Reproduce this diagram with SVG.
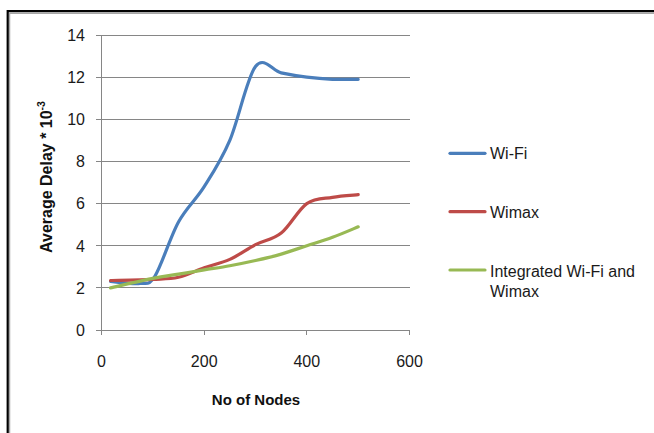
<svg xmlns="http://www.w3.org/2000/svg" width="654" height="433" viewBox="0 0 654 433">
  <style>
    .frame { fill: none; stroke: #000; stroke-width: 2.2; }
    .frame2 { fill: none; stroke: #a6a6a6; stroke-width: 1.3; }
    .grid { stroke: #868686; stroke-width: 1; fill: none; }
    .tick { font-family: "Liberation Sans", Arial, sans-serif; font-size: 16px; fill: #1a1a1a; }
    .title { font-family: "Liberation Sans", Arial, sans-serif; font-size: 15px; font-weight: bold; fill: #111; }
    .series { fill: none; stroke-width: 3.2; stroke-linecap: round; stroke-linejoin: round; }
    .wifi { stroke: #4a7ebb; }
    .wimax { stroke: #be4b48; }
    .integ { stroke: #98b954; }
    .legend-text { font-family: "Liberation Sans", Arial, sans-serif; font-size: 16px; fill: #1a1a1a; }
  </style>

  <rect width="654" height="433" fill="#fff"/>

  <!-- outer frame (top and left edges) -->
  <g id="frame">
    <path class="frame2" d="M9.6 433 V13.4 H654"/>
    <path class="frame" d="M7.7 433 V11.2 H654"/>
  </g>

  <!-- gridlines, axes and ticks -->
  <g id="axes" shape-rendering="crispEdges">
    <path class="grid" d="M96 35 H410 M96 77.1 H410 M96 119.3 H410 M96 161.4 H410 M96 203.6 H410 M96 245.7 H410 M96 287.9 H410 M96 330 H410"/>
    <path class="grid" d="M101.5 35 V335 M204.2 330 V335 M306.8 330 V335 M409.5 330 V335"/>
  </g>

  <g id="y-labels" class="tick" text-anchor="end">
    <text x="85" y="40.8">14</text>
    <text x="85" y="82.9">12</text>
    <text x="85" y="125.1">10</text>
    <text x="85" y="167.2">8</text>
    <text x="85" y="209.4">6</text>
    <text x="85" y="251.5">4</text>
    <text x="85" y="293.7">2</text>
    <text x="85" y="335.8">0</text>
  </g>

  <g id="x-labels" class="tick" text-anchor="middle">
    <text x="101.5" y="366.5">0</text>
    <text x="204.2" y="366.5">200</text>
    <text x="306.8" y="366.5">400</text>
    <text x="409.5" y="366.5">600</text>
  </g>

  <g id="axis-titles" class="title">
    <text x="256" y="405" text-anchor="middle">No of Nodes</text>
    <text transform="translate(51.5,177) rotate(-90)" text-anchor="middle" font-size="16">Average Delay * 10<tspan font-size="10.5" dy="-6.5">-3</tspan></text>
  </g>

  <!-- data series -->
  <g id="series">
    <path id="wifi" class="series wifi" d="M110.5 281.5 C115.42 281.83 132.58 284.42 140 283.5 C147.42 282.58 148.58 286.25 155 276 C161.42 265.75 170.3 236.88 178.5 222 C186.7 207.12 195.65 200.3 204.2 186.7 C212.75 173.1 221.25 160.43 229.8 140.4 C238.35 120.37 246.93 77.75 255.5 66.5 C264.07 55.25 272.65 71.12 281.2 72.9 C289.75 74.68 298.25 76.13 306.8 77.2 C315.35 78.27 323.930 78.95 332.5 79.3 C341.07 79.65 353.92 79.3 358.2 79.3"/>
    <path id="wimax" class="series wimax" d="M110.5 280.5 C117.55 280.32 141.47 279.93 152.8 279.4 C164.13 278.87 169.93 279.23 178.5 277.3 C187.07 275.37 195.65 270.78 204.2 267.8 C212.75 264.82 221.25 263.25 229.8 259.4 C238.35 255.55 246.93 249.08 255.5 244.7 C264.07 240.32 272.65 239.95 281.2 233.1 C289.75 226.25 298.25 209.57 306.8 203.6 C315.35 197.63 323.93 198.78 332.5 197.3 C341.07 195.82 353.92 195.13 358.2 194.7"/>
    <path id="integrated" class="series integ" d="M110.5 287.9 C117.55 286.32 141.47 280.68 152.8 278.4 C164.13 276.12 169.93 275.62 178.5 274.2 C187.07 272.78 195.65 271.32 204.2 269.9 C212.75 268.48 221.25 267.27 229.8 265.7 C238.35 264.13 246.93 262.43 255.5 260.5 C264.07 258.57 272.65 256.57 281.2 254.1 C289.75 251.63 298.25 248.5 306.8 245.7 C315.35 242.9 323.93 240.45 332.5 237.3 C341.07 234.15 353.92 228.55 358.2 226.8"/>
  </g>

  <!-- legend -->
  <g id="legend">
    <g id="legend-wifi">
      <line class="series wifi" x1="450" y1="153.3" x2="485" y2="153.3"/>
      <text class="legend-text" x="490" y="159.2">Wi-Fi</text>
    </g>
    <g id="legend-wimax">
      <line class="series wimax" x1="450" y1="211.7" x2="485" y2="211.7"/>
      <text class="legend-text" x="490" y="217.6">Wimax</text>
    </g>
    <g id="legend-integrated">
      <line class="series integ" x1="450" y1="270" x2="485" y2="270"/>
      <text class="legend-text" x="490" y="276.5">Integrated Wi-Fi and</text>
      <text class="legend-text" x="490" y="296.7">Wimax</text>
    </g>
  </g>
</svg>
